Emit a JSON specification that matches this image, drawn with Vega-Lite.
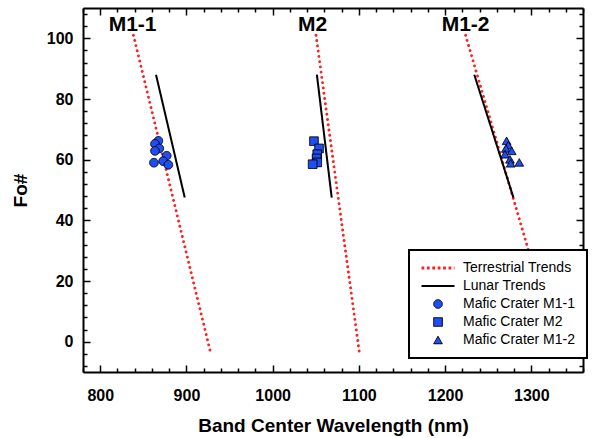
{
  "$schema": "https://vega.github.io/schema/vega-lite/v6.json",
  "width": 500,
  "height": 364,
  "autosize": {"type": "none"},
  "padding": {"left": 83, "top": 8, "right": 21, "bottom": 66},
  "background": "white",
  "config": {"view": {"stroke": null}, "font": "Liberation Sans", "legend": {"strokeWidth": 2}},
  "datasets": {
    "trends": [
      {"series": "Terrestrial Trends", "group": "M1-1", "x": 838.5, "y": 101},
      {"series": "Terrestrial Trends", "group": "M1-1", "x": 928.3, "y": -4},
      {"series": "Terrestrial Trends", "group": "M2", "x": 1050.3, "y": 101},
      {"series": "Terrestrial Trends", "group": "M2", "x": 1100.8, "y": -4},
      {"series": "Terrestrial Trends", "group": "M1-2", "x": 1223.8, "y": 101},
      {"series": "Terrestrial Trends", "group": "M1-2", "x": 1331.8, "y": -4},
      {"series": "Lunar Trends", "group": "M1-1", "x": 864.7, "y": 88},
      {"series": "Lunar Trends", "group": "M1-1", "x": 898.0, "y": 47.5},
      {"series": "Lunar Trends", "group": "M2", "x": 1051.3, "y": 88},
      {"series": "Lunar Trends", "group": "M2", "x": 1068.5, "y": 47.5},
      {"series": "Lunar Trends", "group": "M1-2", "x": 1233.9, "y": 88},
      {"series": "Lunar Trends", "group": "M1-2", "x": 1279.3, "y": 47.5}
    ],
    "points": [
      {"series": "Mafic Crater M1-1", "x": 867.4, "y": 66.2},
      {"series": "Mafic Crater M1-1", "x": 863.5, "y": 65.2},
      {"series": "Mafic Crater M1-1", "x": 868.5, "y": 63.7},
      {"series": "Mafic Crater M1-1", "x": 863.5, "y": 62.9},
      {"series": "Mafic Crater M1-1", "x": 877.1, "y": 61.3},
      {"series": "Mafic Crater M1-1", "x": 862.3, "y": 59.0},
      {"series": "Mafic Crater M1-1", "x": 873.1, "y": 59.5},
      {"series": "Mafic Crater M1-1", "x": 879.0, "y": 58.3},
      {"series": "Mafic Crater M2", "x": 1047.9, "y": 66.1},
      {"series": "Mafic Crater M2", "x": 1053.8, "y": 63.7},
      {"series": "Mafic Crater M2", "x": 1051.7, "y": 61.8},
      {"series": "Mafic Crater M2", "x": 1051.0, "y": 60.4},
      {"series": "Mafic Crater M2", "x": 1051.7, "y": 59.1},
      {"series": "Mafic Crater M2", "x": 1046.4, "y": 58.5},
      {"series": "Mafic Crater M1-2", "x": 1271.4, "y": 66.2},
      {"series": "Mafic Crater M1-2", "x": 1273.4, "y": 64.8},
      {"series": "Mafic Crater M1-2", "x": 1270.6, "y": 63.7},
      {"series": "Mafic Crater M1-2", "x": 1277.3, "y": 62.9},
      {"series": "Mafic Crater M1-2", "x": 1269.5, "y": 61.8},
      {"series": "Mafic Crater M1-2", "x": 1275.3, "y": 60.1},
      {"series": "Mafic Crater M1-2", "x": 1276.1, "y": 58.8},
      {"series": "Mafic Crater M1-2", "x": 1286.1, "y": 59.1}
    ],
    "labels": [
      {"label": "M1-1", "x": 837.5, "y": 104.3},
      {"label": "M2", "x": 1046.3, "y": 104.3},
      {"label": "M1-2", "x": 1223.8, "y": 104.3}
    ]
  },
  "layer": [
    {
      "data": {"name": "trends"},
      "transform": [{"filter": "datum.series == 'Terrestrial Trends'"}],
      "mark": {"type": "line", "color": "#ff2020", "strokeWidth": 2.9, "strokeCap": "round", "strokeDash": [0.01, 5.3]},
      "encoding": {
        "x": {
          "field": "x", "type": "quantitative",
          "scale": {"domain": [780, 1360], "nice": false, "zero": false},
          "axis": {
            "orient": "bottom",
            "values": [780, 800, 820, 840, 860, 880, 900, 920, 940, 960, 980, 1000, 1020, 1040, 1060, 1080, 1100, 1120, 1140, 1160, 1180, 1200, 1220, 1240, 1260, 1280, 1300, 1320, 1340, 1360],
            "format": "d",
            "labelExpr": "datum.value % 100 === 0 ? datum.label : ''",
            "tickSize": {"condition": {"test": "datum.value % 100 === 0", "value": -7}, "value": -4},
            "tickColor": "black", "tickWidth": 1.5,
            "domainColor": "black", "domainWidth": 2,
            "grid": false,
            "labelFont": "Liberation Sans", "labelFontWeight": "bold", "labelFontSize": 16, "labelColor": "black",
            "labelPadding": 22, "labelFlush": false, "labelOverlap": false, "labelAngle": 0,
            "title": "Band Center Wavelength (nm)",
            "titleFont": "Liberation Sans", "titleFontSize": 19, "titleFontWeight": "bold", "titleColor": "black", "titlePadding": 10
          }
        },
        "y": {
          "field": "y", "type": "quantitative",
          "scale": {"domain": [-10, 110], "nice": false, "zero": false},
          "axis": {
            "orient": "left",
            "values": [-8, -4, 0, 4, 8, 12, 16, 20, 24, 28, 32, 36, 40, 44, 48, 52, 56, 60, 64, 68, 72, 76, 80, 84, 88, 92, 96, 100, 104, 108],
            "format": "d",
            "labelExpr": "datum.value % 20 === 0 ? datum.label : ''",
            "tickSize": {"condition": {"test": "datum.value % 20 === 0", "value": -7}, "value": -4},
            "tickColor": "black", "tickWidth": 1.5,
            "domainColor": "black", "domainWidth": 2,
            "grid": false,
            "labelFont": "Liberation Sans", "labelFontWeight": "bold", "labelFontSize": 16, "labelColor": "black",
            "labelPadding": 17, "labelFlush": false, "labelOverlap": false,
            "title": "Fo#",
            "titleFont": "Liberation Sans", "titleFontSize": 19, "titleFontWeight": "bold", "titleColor": "black", "titlePadding": 16
          }
        },
        "detail": {"field": "group", "type": "nominal"}
      }
    },
    {
      "data": {"name": "trends"},
      "transform": [{"filter": "datum.series == 'Lunar Trends'"}],
      "mark": {"type": "line", "color": "black", "strokeWidth": 2},
      "encoding": {
        "x": {
          "field": "x", "type": "quantitative",
          "axis": {
            "orient": "top",
            "values": [780, 800, 820, 840, 860, 880, 900, 920, 940, 960, 980, 1000, 1020, 1040, 1060, 1080, 1100, 1120, 1140, 1160, 1180, 1200, 1220, 1240, 1260, 1280, 1300, 1320, 1340, 1360],
            "labels": false,
            "tickSize": {"condition": {"test": "datum.value % 100 === 0", "value": -7}, "value": -4},
            "tickColor": "black", "tickWidth": 1.5,
            "domainColor": "black", "domainWidth": 2,
            "grid": false, "title": null
          }
        },
        "y": {
          "field": "y", "type": "quantitative",
          "axis": {
            "orient": "right",
            "values": [-8, -4, 0, 4, 8, 12, 16, 20, 24, 28, 32, 36, 40, 44, 48, 52, 56, 60, 64, 68, 72, 76, 80, 84, 88, 92, 96, 100, 104, 108],
            "labels": false,
            "tickSize": {"condition": {"test": "datum.value % 20 === 0", "value": -7}, "value": -4},
            "tickColor": "black", "tickWidth": 1.5,
            "domainColor": "black", "domainWidth": 2,
            "grid": false, "title": null
          }
        },
        "detail": {"field": "group", "type": "nominal"}
      }
    },
    {
      "data": {"name": "points"},
      "mark": {"type": "point", "filled": true, "opacity": 1},
      "encoding": {
        "x": {"field": "x", "type": "quantitative", "axis": null},
        "y": {"field": "y", "type": "quantitative", "axis": null},
        "shape": {
          "field": "series", "type": "nominal",
          "scale": {
            "domain": ["Terrestrial Trends", "Lunar Trends", "Mafic Crater M1-1", "Mafic Crater M2", "Mafic Crater M1-2"],
            "range": ["stroke", "stroke", "circle", "square", "triangle-up"]
          },
          "legend": {"title": null, "orient": "none", "legendX": 326, "legendY": 242, "padding": 11, "rowPadding": 4, "clipHeight": 14, "strokeColor": "black", "fillColor": "white", "labelFont": "Liberation Sans", "labelFontSize": 14, "labelColor": "black", "labelOffset": 7, "labelLimit": 300}
        },
        "fill": {
          "field": "series", "type": "nominal",
          "scale": {
            "domain": ["Terrestrial Trends", "Lunar Trends", "Mafic Crater M1-1", "Mafic Crater M2", "Mafic Crater M1-2"],
            "range": ["transparent", "transparent", "#1f4ef5", "#1f4ef5", "#1f4ef5"]
          },
          "legend": {"title": null, "orient": "none", "legendX": 326, "legendY": 242, "padding": 11, "rowPadding": 4, "clipHeight": 14, "strokeColor": "black", "fillColor": "white", "labelFont": "Liberation Sans", "labelFontSize": 14, "labelColor": "black", "labelOffset": 7, "labelLimit": 300}
        },
        "stroke": {
          "field": "series", "type": "nominal",
          "scale": {
            "domain": ["Terrestrial Trends", "Lunar Trends", "Mafic Crater M1-1", "Mafic Crater M2", "Mafic Crater M1-2"],
            "range": ["#ff2020", "black", "black", "black", "black"]
          },
          "legend": {"title": null, "orient": "none", "legendX": 326, "legendY": 242, "padding": 11, "rowPadding": 4, "clipHeight": 14, "strokeColor": "black", "fillColor": "white", "labelFont": "Liberation Sans", "labelFontSize": 14, "labelColor": "black", "labelOffset": 7, "labelLimit": 300}
        },
        "strokeDash": {
          "field": "series", "type": "nominal",
          "scale": {
            "domain": ["Terrestrial Trends", "Lunar Trends", "Mafic Crater M1-1", "Mafic Crater M2", "Mafic Crater M1-2"],
            "range": [[2.8, 2.6], [1, 0], [1, 0], [1, 0], [1, 0]]
          },
          "legend": {"title": null, "orient": "none", "legendX": 326, "legendY": 242, "padding": 11, "rowPadding": 4, "clipHeight": 14, "strokeColor": "black", "fillColor": "white", "labelFont": "Liberation Sans", "labelFontSize": 14, "labelColor": "black", "labelOffset": 7, "labelLimit": 300}
        },
        "size": {
          "field": "series", "type": "nominal",
          "scale": {
            "type": "ordinal",
            "domain": ["Terrestrial Trends", "Lunar Trends", "Mafic Crater M1-1", "Mafic Crater M2", "Mafic Crater M1-2"],
            "range": [1089, 1089, 75, 75, 75]
          },
          "legend": {"title": null, "orient": "none", "legendX": 326, "legendY": 242, "padding": 11, "rowPadding": 4, "clipHeight": 14, "strokeColor": "black", "fillColor": "white", "labelFont": "Liberation Sans", "labelFontSize": 14, "labelColor": "black", "labelOffset": 7, "labelLimit": 300}
        },
        "strokeWidth": {
          "field": "series", "type": "nominal",
          "scale": {
            "type": "ordinal",
            "domain": ["Terrestrial Trends", "Lunar Trends", "Mafic Crater M1-1", "Mafic Crater M2", "Mafic Crater M1-2"],
            "range": [2.9, 2, 1, 1, 1]
          },
          "legend": {"title": null, "orient": "none", "legendX": 326, "legendY": 242, "padding": 11, "rowPadding": 4, "clipHeight": 14, "strokeColor": "black", "fillColor": "white", "labelFont": "Liberation Sans", "labelFontSize": 14, "labelColor": "black", "labelOffset": 7, "labelLimit": 300}
        }
      }
    },
    {
      "data": {"name": "labels"},
      "mark": {"type": "text", "font": "Liberation Sans", "fontSize": 21, "fontWeight": "bold", "color": "black", "align": "center", "baseline": "middle"},
      "encoding": {
        "x": {"field": "x", "type": "quantitative", "axis": null},
        "y": {"field": "y", "type": "quantitative", "axis": null},
        "text": {"field": "label"}
      }
    }
  ]
}
